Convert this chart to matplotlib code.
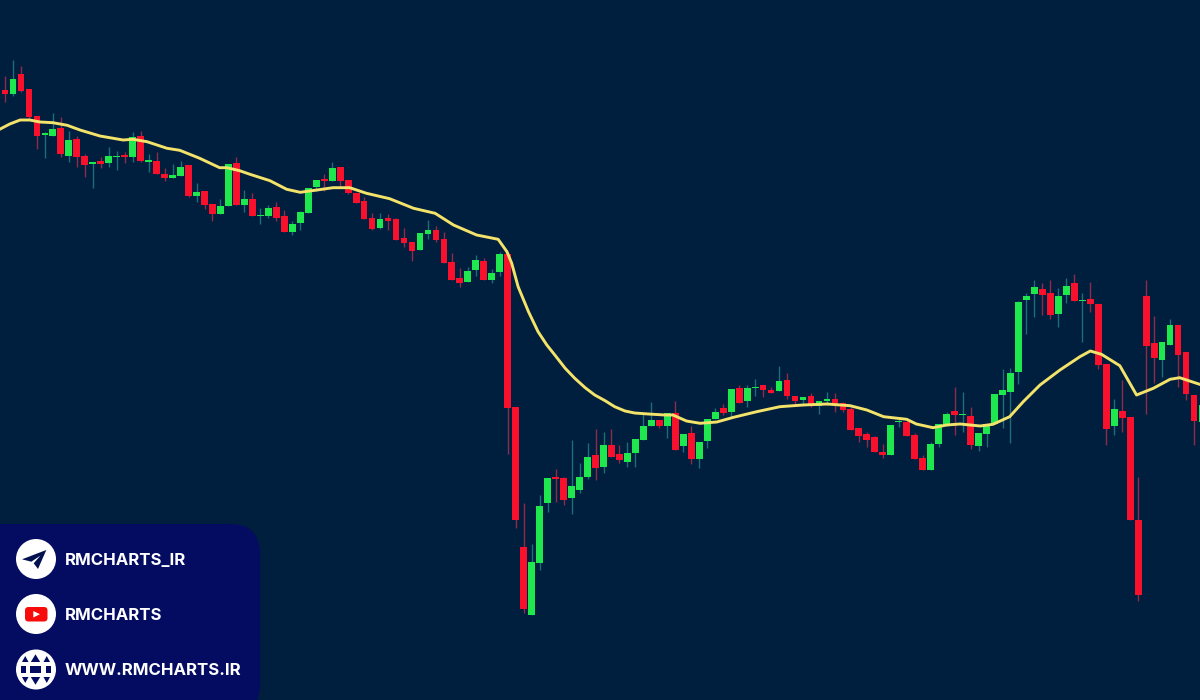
import matplotlib
matplotlib.use('Agg')
import matplotlib.pyplot as plt
from matplotlib.patches import Circle, FancyBboxPatch, Polygon, Rectangle

# Candles. Numbers are heights on the (inverted) chart scale.
bar_start = -1
colours = ("g"
           "rgrrrggrgr" "rgrggrgrgr" "rggrgrrggr" "grggrrgggg" "rgrrrrrgrr"
           "rrggrrrrgg" "rggrrrgggr" "rgggrgrrgg" "ggrgrgrggg" "rgrggrrgrr"
           "grggrrrrrr" "rggrrrgggr" "grgggggggg" "rrggrgrrrg" "rrrrrggrrr"
           "g")

body_top = [92,
    90.3, 79.3, 74.3, 88.7, 116, 133.3, 129.3, 128, 140, 139,
    155.7, 162, 161, 156.3, 156, 154.7, 136.7, 135.7, 160, 161,
    174, 175, 166.7, 165.3, 192, 191, 204, 206.3, 164, 162.7,
    199.3, 198.7, 215.3, 208, 207.3, 215.7, 223.7, 212.3, 187.7, 179.7,
    179, 168, 167.3, 180.3, 192.7, 201.3, 218.3, 219.3, 218, 218.7,
    237.7, 242.3, 232.7, 230, 230, 239.3, 262.3, 278.3, 270.7, 260.3,
    261.3, 273.3, 254, 254.3, 407, 546.7, 562, 505.7, 477.7, 477.3,
    478, 485.7, 477.3, 457.3, 455.3, 445, 444.7, 453.7, 453, 439,
    425.7, 419.7, 420, 413.3, 413.3, 434.3, 433.3, 441.7, 418.7, 412.3,
    408.3, 389.3, 388, 388.3, 387.3, 385.3, 390, 380.7, 380, 396,
    397.3, 395.7, 401, 399.3, 399, 403.3, 409.3, 428, 434, 437,
    452, 424.7, 420.7, 422, 435, 457.7, 444, 424, 414.3, 411,
    414, 415.7, 433.3, 424, 394, 390.3, 373.3, 302.3, 296, 286.7,
    289, 293.3, 296.3, 285.7, 283.3, 300, 299.3, 304, 364, 409,
    411.3, 417.3, 519.7, 295.7, 343.3, 342, 325, 325, 352, 395.3,
    405]

body_bot = [94,
    94, 94, 90.7, 116.7, 136.3, 135.3, 136, 154, 155.7, 157.3,
    164.7, 164.3, 164, 163.3, 157.3, 157.3, 157.3, 161, 161.7, 174.3,
    178, 178.3, 175.7, 196.3, 196, 205.3, 214, 213.7, 206.3, 205,
    204.7, 216.3, 216.3, 216.3, 218.3, 232.3, 232, 223, 213.3, 187.3,
    181.3, 181, 181, 193.3, 203.3, 219, 229, 228, 221, 239.7,
    242.7, 250.7, 250.3, 234, 239.7, 263, 279.7, 282.7, 281.7, 269.7,
    280, 280, 272.3, 407.7, 520.3, 609.3, 614.7, 562.7, 503.3, 479.3,
    500.3, 498.3, 490.3, 477, 468, 467.3, 457, 460, 462, 453,
    439.7, 425.7, 426.3, 425.7, 449.7, 446, 459, 459.3, 441, 419.3,
    412.7, 412, 402.7, 401.3, 388.3, 390, 392.7, 391.3, 396, 401.3,
    400.3, 405.7, 405.7, 400.7, 404.7, 410, 429.7, 436, 440, 452,
    455, 455, 422, 435.7, 459.3, 470.3, 470, 444.3, 426, 414.7,
    415.3, 445.3, 446, 433.7, 424, 395, 391.7, 371.7, 300, 294.3,
    294.7, 314.7, 314, 295.3, 301.3, 301, 303.7, 364.7, 428.7, 426,
    418, 519.7, 595.3, 345.7, 358.3, 360, 344.7, 354.7, 393.7, 420.7,
    421.7]

wick_top = [87,
    76, 60, 66, 88.7, 116, 131.7, 113.3, 116.7, 130.7, 136,
    154, 162, 156.7, 147.3, 151.3, 151.7, 132, 131, 154, 152,
    168, 164.3, 161, 165.3, 183, 191, 204, 199, 164, 156.7,
    190, 193.3, 208.3, 204.7, 201.7, 210, 220.7, 210.7, 187.7, 179.7,
    174, 162, 167.3, 180.3, 192.7, 196.7, 213.3, 213.3, 214, 218,
    228.3, 242.3, 232.7, 220, 226.3, 232.3, 253.3, 268.3, 266.7, 254.7,
    258, 269.3, 251.7, 254.3, 407, 503.3, 544.3, 495, 477.7, 469,
    476.7, 440, 463.3, 443.3, 428.7, 431.7, 428.7, 445, 441.7, 439,
    412.7, 401.7, 420, 413.3, 400.7, 434.3, 426, 441.7, 418.7, 408.3,
    404, 389.3, 385.3, 385.3, 379, 385.3, 387.3, 366, 373.3, 396,
    397.3, 393.3, 401, 392.3, 393.3, 402, 406.7, 428, 432.3, 435.7,
    444.3, 424.7, 416.7, 418.7, 433.3, 455, 441.7, 424, 412, 386.7,
    392, 406.7, 433.3, 424, 394, 369.3, 368.3, 300.7, 292.7, 280,
    283.3, 280, 288.3, 278.3, 274, 292.7, 281.7, 304, 364, 399.3,
    380, 417.3, 476.7, 280, 316, 342, 319, 325, 352, 395.3,
    395]

wick_bot = [112,
    101.7, 96, 91.7, 119, 149, 157.7, 136, 156.7, 162.3, 167.3,
    176.7, 188, 168.3, 167.3, 170, 162.7, 161.7, 161.7, 172, 174.3,
    181.3, 178.3, 175.7, 197.3, 202, 209.3, 221.3, 213.7, 206.3, 205,
    212, 216.3, 224, 218.3, 220.7, 232.3, 234.7, 230, 213.3, 190.7,
    190.7, 181, 186.7, 194, 203.3, 219, 230, 228.7, 230, 240,
    247.3, 261, 250.3, 239.3, 242.3, 263.3, 279.7, 286.7, 282.3, 276,
    280, 283.3, 276, 454.3, 527.7, 613.3, 614.7, 570, 511.7, 502.3,
    505.3, 514, 493.3, 479.3, 480, 473.3, 457, 462.7, 466.7, 466.7,
    439.7, 425.7, 427.7, 437.7, 449.7, 452, 464, 467.7, 447.7, 419.3,
    415, 417.3, 403.3, 406.7, 396, 397.3, 392.7, 391.3, 399.3, 404,
    405, 407.3, 414, 405, 412, 412, 429.7, 442, 447.3, 452,
    458.3, 455, 426.7, 435.7, 459.3, 470.3, 470, 447.3, 426, 435,
    432, 448.7, 450.7, 447.3, 424, 428.3, 443.3, 384, 334, 316.7,
    315, 319.3, 326.7, 302.7, 301.3, 341.7, 311.7, 368.7, 445.3, 435,
    431.7, 520, 600.7, 414.3, 383.3, 376.7, 344.7, 386.7, 400, 445,
    440]

# Moving average, sampled at fractional bar numbers
ma_bar = [-0.6, 0.6, 1.9, 3.1, 4.4, 6.0, 7.8, 9.4, 11.9, 14.8, 16.0, 17.8, 20.3, 21.9,
          24.4, 26.9, 27.8, 29.4, 30.7, 33.2, 35.3, 37.0, 39.1, 41.1, 43.2, 45.3, 48.2,
          51.2, 53.9, 56.2, 59.1, 61.8, 62.9, 63.5, 64.3, 65.6, 66.8, 67.9, 68.9, 70.2,
          71.4, 72.7, 73.9, 75.2, 76.4, 77.7, 78.9, 80.6, 82.7, 83.7, 85.4, 87.1, 89.2,
          91.3, 94.2, 97.1, 100.0, 103.0, 105.9, 108.0, 110.1, 113.0, 114.2, 116.3, 118.0,
          119.7, 122.2, 123.8, 125.9, 127.6, 129.7, 132.2, 134.7, 136.0, 137.4, 139.7,
          141.8, 143.9, 146.0, 147.2, 149.7]
ma_val = [129, 124, 120, 120, 122, 122.7, 125.3, 130, 136, 140, 139.3, 141.7, 148.3, 150.3,
          158.3, 167.7, 167.7, 170.7, 174.3, 180.7, 189.3, 192.3, 190, 187.7, 187.7, 193.3,
          198.7, 208.3, 213.3, 225, 235, 239.3, 251.7, 263.3, 286.7, 311.7, 331.7, 345, 355,
          368.3, 378.3, 387.7, 395, 400.7, 406.7, 411, 413, 414, 415, 415, 421, 423.3, 422,
          417.3, 411.7, 406.7, 405, 404, 405.7, 410, 416.7, 419.3, 424, 427.7, 425, 424, 426,
          424.3, 416.7, 401.7, 385, 370, 356.7, 351, 354.3, 365.7, 395, 388.3, 379.3, 377.7,
          384.3]

links = ['RMCHARTS_IR', 'RMCHARTS', 'WWW.RMCHARTS.IR']

bg = '#001e3d'
panel = '#040c62'
green, red = '#1fe84f', '#f8102c'
wick_green, wick_red = '#1b6f78', '#8f2c4c'

fig = plt.figure(figsize=(12, 7), dpi=100, facecolor=bg)
ax = fig.add_axes([0, 0, 1, 1])
ax.set_facecolor(bg)

bars = [bar_start + i for i in range(len(colours))]
wick_cols = [wick_green if c == 'g' else wick_red for c in colours]
body_cols = [green if c == 'g' else red for c in colours]
heights = [b - t for t, b in zip(body_top, body_bot)]

ax.vlines(bars, wick_top, wick_bot, colors=wick_cols, lw=1.0, zorder=1)
ax.bar(bars, heights, bottom=body_top, width=0.85, color=body_cols, zorder=2)
ax.plot(ma_bar, ma_val, color='#f3e36a', lw=2.1, zorder=3, solid_joinstyle='round')

# one bar is 7.98 px and bar 0 sits at x=5
ax.set_xlim(-5/7.98, 1195/7.98)
ax.set_ylim(700, 0)
ax.axis('off')

# Badge bottom left, in picture pixels
ov = fig.add_axes([0, 0, 1, 1])
ov.set_xlim(0, 1200)
ov.set_ylim(700, 0)
ov.axis('off')
ov.patch.set_alpha(0)

ov.add_patch(Rectangle((-60, 524), 290, 200, fc=panel, lw=0))
ov.add_patch(FancyBboxPatch((170, 524), 90, 190, boxstyle='round,pad=0,rounding_size=30',
                            fc=panel, lw=0))

icon_y = [559, 614, 669.5]
for y, label in zip(icon_y, links):
    ov.add_patch(Circle((36, y), 20, fc='white', lw=0))
    ov.text(65, y + 5.8, label, color='white', fontsize=12.1, fontweight='bold', family='Inter',
            va='baseline', ha='left')

# telegram plane
ov.add_patch(Polygon([(46.3, 550), (22, 559.3), (31.3, 561.7), (40.3, 555.7), (33.7, 563.3), (38, 569)],
                     fc='#04114f', lw=0))
# youtube
ov.add_patch(FancyBboxPatch((25, 607), 22.5, 14.5, boxstyle='round,pad=0,rounding_size=3.5',
                            fc='#f80b0b', lw=0))
ov.add_patch(Polygon([(33.3, 611), (33.3, 617.5), (40, 614.2)], fc='white', lw=0))
# globe cells
for x0, x1 in [(21, 26), (30.3, 40.7), (45.5, 51.3)]:
    ov.add_patch(Rectangle((x0, 665.7), x1 - x0, 7.6, fc=panel, lw=0))
for x0, x1 in [(22, 28.5), (43.5, 50)]:
    xm = (x0 + x1) / 2
    ov.add_patch(Polygon([(x0, 662), (xm, 656), (x1, 662)], fc=panel, lw=0))
    ov.add_patch(Polygon([(x0, 677), (xm, 683), (x1, 677)], fc=panel, lw=0))
ov.add_patch(Polygon([(35.5, 654.3), (30.8, 662), (40.2, 662)], fc=panel, lw=0))
ov.add_patch(Polygon([(35.5, 684.7), (30.8, 677), (40.2, 677)], fc=panel, lw=0))

plt.savefig('out.png', dpi=100, facecolor=bg)
